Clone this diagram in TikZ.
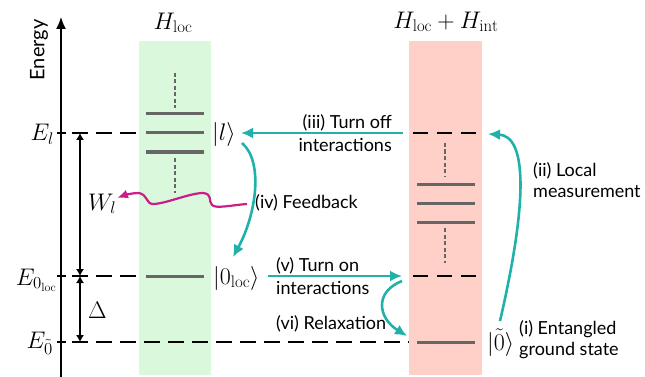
\RequirePackage{fix-cm}
\documentclass[tikz,border=0pt]{standalone}
\usepackage{amsmath}
\usepackage{fontspec}
\newfontfamily\labfont{Lato}
\usetikzlibrary{arrows.meta}
\definecolor{tealc}{RGB}{32,178,170}
\definecolor{magc}{RGB}{204,27,139}
\definecolor{gbox}{RGB}{218,248,220}
\definecolor{rbox}{RGB}{255,208,200}
\definecolor{levc}{RGB}{102,102,102}
\begin{document}
\begin{tikzpicture}[x=1pt,y=-1pt,
  lab/.style={font=\labfont\fontsize{18}{21}\selectfont, inner sep=0pt},
  labw/.style={font=\labfont\fontsize{18}{23}\selectfont, inner sep=0pt},
  mth/.style={font=\fontsize{24}{28}\selectfont, inner sep=0pt},
  levline/.style={line width=3pt, draw=levc},
  guide/.style={dash pattern=on 16pt off 8pt, line width=1.1pt},
  vdots/.style={dash pattern=on 4pt off 2.5pt, line width=1.7pt, draw=levc},
  tarrow/.style={draw=tealc, line width=2.6pt, -{Latex[length=12pt,width=11pt]}},
  barrow/.style={line width=1.2pt, {Latex[length=7pt,width=8pt]}-{Latex[length=7pt,width=8pt]}},
  tickc/.style={line width=1.2pt}
]
\useasboundingbox (0,0) rectangle (645,377);
% boxes
\fill[gbox] (139,41) rectangle (211,375);
\fill[rbox] (409,41) rectangle (482,375);
% axis
\coordinate (axb) at (61,377);
\coordinate (axt) at (61,17);
\draw[line width=1.5pt,-{Latex[length=12pt,width=10pt]}] (axb) -- (axt);
\node[font=\labfont\fontsize{20}{22}\selectfont, inner sep=0pt, rotate=90] (energy) at (39,50) {Energy};
% ticks
\coordinate (tl) at (61,133);
\coordinate (t0) at (61,276);
\coordinate (tg) at (61,342);
\draw[tickc] ([xshift=-4pt]tl) -- ([xshift=5pt]tl);
\draw[tickc] ([xshift=-4pt]t0) -- ([xshift=5pt]t0);
\draw[tickc] ([xshift=-4pt]tg) -- ([xshift=5pt]tg);
% energy labels
\node[mth, anchor=base east] (El) at (54,141) {$E_l$};
\node[mth, anchor=base east] (E0) at (57,285) {$E_{0_{\mathrm{loc}}}$};
\node[mth, anchor=base east] (Eg) at (53,348) {$E_{\tilde{0}}$};
% guides
\coordinate (gl1) at (72,133); \coordinate (gl2) at (139,133);
\coordinate (g01) at (72,276); \coordinate (g02) at (139,276);
\coordinate (gg1) at (72,342); \coordinate (gg2) at (409,342);
\coordinate (rl1) at (413,133); \coordinate (rl2) at (478,133);
\coordinate (r01) at (413,276); \coordinate (r02) at (478,276);
\draw[guide] (gl1) -- (gl2);
\draw[guide] (g01) -- (g02);
\draw[guide] (gg1) -- (gg2);
\draw[guide, dash pattern=on 15pt off 9pt] (rl1) -- (rl2);
\draw[guide, dash pattern=on 15pt off 9pt] (r01) -- (r02);
% bracket arrows
\coordinate (wa) at (80,133); \coordinate (wb) at (80,276); \coordinate (wc) at (80,342);
\draw[barrow] (wa) -- (wb);
\draw[barrow] (wb) -- (wc);
\node[mth, anchor=base west] (Wl) at (88,210) {$W_l$};
\node[mth, anchor=base west] (Dl) at (88,318) {$\Delta$};
% titles
\node[mth] (Hloc) at (173,23) {$H_{\mathrm{loc}}$};
\node[mth] (Hint) at (446,22) {$H_{\mathrm{loc}}+H_{\mathrm{int}}$};
% green levels
\draw[levline] (146,114) -- (204,114);
\draw[levline] (146,133) -- (204,133);
\draw[levline] (146,152) -- (204,152);
\draw[levline] (146,276) -- (204,276);
\draw[vdots] (175,73) -- (175,108);
\draw[vdots] (175,158) -- (175,193);
% red levels
\draw[levline] (417,184) -- (475,184);
\draw[levline] (417,203) -- (475,203);
\draw[levline] (417,222) -- (475,222);
\draw[levline] (417,342) -- (475,342);
\draw[vdots] (445,143) -- (445,177);
\draw[vdots] (445,228) -- (445,263);
% state labels
\node[mth, anchor=base west] (kl) at (212,141) {$|l\rangle$};
\node[mth, anchor=base west] (k0) at (213,284) {$|0_{\mathrm{loc}}\rangle$};
\node[mth, anchor=base west] (kg) at (487,350) {$|\tilde{0}\rangle$};
% step labels
\node[labw, align=right, anchor=east] (s3) at (392,133) {(iii) Turn off\\interactions};
\node[lab, align=left, anchor=west] (s2) at (533,180) {(ii) Local\\measurement};
\node[lab, align=left, anchor=west] (s1) at (519,340) {(i) Entangled\\ground state};
\node[lab, anchor=west] (s4) at (255,203) {(iv) Feedback};
\node[labw, align=left, anchor=west] (s5) at (276,276) {(v) Turn on\\interactions};
\node[lab, anchor=west] (s6) at (276,324) {(vi) Relaxation};
% teal arrows
\coordinate (a3s) at (403,133); \coordinate (a3e) at (241,133);
\draw[tarrow] (a3s) -- (a3e);
\coordinate (a5s) at (268,276); \coordinate (a5e) at (402,276);
\draw[tarrow] (a5s) -- (a5e);
\coordinate (a6s) at (402,281); \coordinate (a6e) at (407,336);
\draw[tarrow] (a6s) .. controls (374,292) and (378,318) .. (a6e);
\coordinate (a2s) at (500,321); \coordinate (a2e) at (488,134);
\draw[tarrow] (a2s) .. controls (528,200) and (527,136) .. (a2e);
\coordinate (a4s) at (242,143); \coordinate (a4e) at (233,257);
\draw[tarrow] (a4s) .. controls (264,162) and (256,215) .. (a4e);
% feedback wavy arrow
\coordinate (fbs) at (247,204); \coordinate (fbe) at (117,198);
\draw[magc, line width=2.2pt, -{Latex[length=11pt,width=9pt]}] (fbs) .. controls (232,205) and (216,209) .. (212,205) .. controls (208,201) and (213,194) .. (203,193) .. controls (190,193) and (165,204) .. (153,204) .. controls (146,204) and (148,195) .. (139,193) .. controls (132,193) and (125,195) .. (fbe);
\end{tikzpicture}
\end{document}
